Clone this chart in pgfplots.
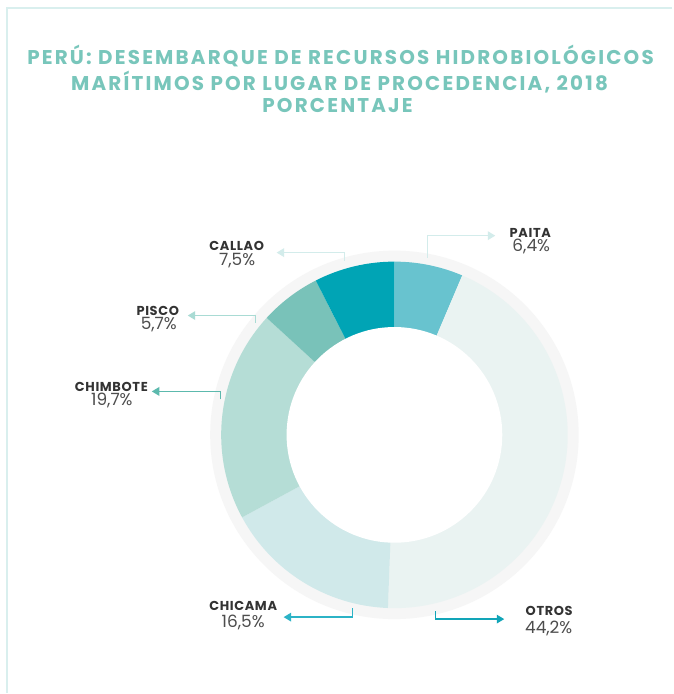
\documentclass[border=0pt]{standalone}
\usepackage{pgfplots}
\pgfplotsset{compat=1.18}
\usepackage{pgfplotstable}
\usetikzlibrary{arrows.meta}
\usepackage{fontspec}
\setmainfont{Poppins}
\definecolor{titlecol}{HTML}{78C6BB}
\definecolor{framecol}{HTML}{D9EFEE}
\definecolor{cPAITA}{HTML}{68C3CF}
\definecolor{cOTROS}{HTML}{EAF3F2}
\definecolor{cCHICAMA}{HTML}{D0E9EA}
\definecolor{cCHIMBOTE}{HTML}{B5DDD6}
\definecolor{cPISCO}{HTML}{79C2B9}
\definecolor{cCALLAO}{HTML}{00A4B5}
\definecolor{ringgray}{HTML}{F6F6F6}
\definecolor{aPale}{HTML}{D3ECEB}
\definecolor{aPISCO}{HTML}{A9DBD4}
\definecolor{aCHIMBOTE}{HTML}{5CB9AD}
\definecolor{aCHICAMA}{HTML}{2CB3C6}
\definecolor{aOTROS}{HTML}{12A5B8}
\definecolor{namecol}{HTML}{333333}
\definecolor{valcol}{HTML}{4D4D4D}

\pgfplotstableread{
name value
PAITA 6.4
OTROS 44.2
CHICAMA 16.5
CHIMBOTE 19.7
PISCO 5.7
CALLAO 7.5
}\piedata
\pgfplotstablegetelem{0}{value}\of\piedata\pgfmathsetmacro\vA{\pgfplotsretval}%
\pgfplotstablegetelem{1}{value}\of\piedata\pgfmathsetmacro\vB{\pgfplotsretval}%
\pgfplotstablegetelem{2}{value}\of\piedata\pgfmathsetmacro\vC{\pgfplotsretval}%
\pgfplotstablegetelem{3}{value}\of\piedata\pgfmathsetmacro\vD{\pgfplotsretval}%
\pgfplotstablegetelem{4}{value}\of\piedata\pgfmathsetmacro\vE{\pgfplotsretval}%
\pgfplotstablegetelem{5}{value}\of\piedata\pgfmathsetmacro\vF{\pgfplotsretval}%
\pgfmathsetmacro\aA{90}%
\pgfmathsetmacro\aB{\aA-3.6*\vA}%
\pgfmathsetmacro\aC{\aB-3.6*\vB}%
\pgfmathsetmacro\aD{\aC-3.6*\vC}%
\pgfmathsetmacro\aE{\aD-3.6*\vD}%
\pgfmathsetmacro\aF{\aE-3.6*\vE}%
\pgfmathsetmacro\aG{\aF-3.6*\vF}%

\begin{document}%
\begin{tikzpicture}
\begin{axis}[
  x=1bp, y=1bp, y dir=reverse,
  xmin=0, xmax=673, ymin=0, ymax=694,
  hide axis, clip=false, scale only axis,
]
\fill[white] (axis cs:0,0) rectangle (axis cs:673,694);
% frame
\draw[framecol, line width=2bp] (axis cs:7,694) -- (axis cs:7,8) -- (axis cs:673,8);
% title
\tikzset{ttl/.style={font=\bfseries\fontsize{20}{22}\selectfont\addfontfeatures{LetterSpace=11}, text=titlecol, anchor=center, inner sep=0pt}}
\node[ttl] at (axis cs:341,56) {PERÚ: DESEMBARQUE DE RECURSOS HIDROBIOLÓGICOS};
\node[ttl] at (axis cs:340,82) {MARÍTIMOS POR LUGAR DE PROCEDENCIA, 2018};
\node[ttl] at (axis cs:338,106) {PORCENTAJE};
% donut
\fill[ringgray] (axis cs:395,435.5) circle[radius=184.5bp];
\fill[cPAITA] (axis cs:395,435.5) -- ++(\aA:173.5bp) arc[start angle=\aA, end angle=\aB, radius=173.5bp] -- cycle;
\fill[cOTROS] (axis cs:395,435.5) -- ++(\aB:173.5bp) arc[start angle=\aB, end angle=\aC, radius=173.5bp] -- cycle;
\fill[cCHICAMA] (axis cs:395,435.5) -- ++(\aC:173.5bp) arc[start angle=\aC, end angle=\aD, radius=173.5bp] -- cycle;
\fill[cCHIMBOTE] (axis cs:395,435.5) -- ++(\aD:173.5bp) arc[start angle=\aD, end angle=\aE, radius=173.5bp] -- cycle;
\fill[cPISCO] (axis cs:395,435.5) -- ++(\aE:173.5bp) arc[start angle=\aE, end angle=\aF, radius=173.5bp] -- cycle;
\fill[cCALLAO] (axis cs:395,435.5) -- ++(\aF:173.5bp) arc[start angle=\aF, end angle=\aG, radius=173.5bp] -- cycle;
\fill[white] (axis cs:395,435.5) circle[radius=108bp];
% arrows
\tikzset{arr/.style={line width=1.5bp, -{Triangle[length=7.5bp, width=8.5bp]}}}
\draw[arr, aPale] (axis cs:428,258) -- (axis cs:428,236) -- (axis cs:496,236);
\draw[arr, aPale] (axis cs:345,261) -- (axis cs:345,253) -- (axis cs:277,253);
\draw[arr, aPISCO] (axis cs:256,323) -- (axis cs:256,316) -- (axis cs:188,316);
\draw[arr, aCHIMBOTE] (axis cs:221,400) -- (axis cs:221,392) -- (axis cs:152,392);
\draw[arr, aCHICAMA] (axis cs:353,609) -- (axis cs:353,618) -- (axis cs:284,618);
\draw[arr, aOTROS] (axis cs:436,612) -- (axis cs:436,620) -- (axis cs:505,620);
% labels
\tikzset{nm/.style={font=\bfseries\fontsize{13}{15}\selectfont\addfontfeatures{LetterSpace=5}, text=namecol, anchor=center, inner sep=0pt},
         vl/.style={font=\fontsize{17}{19}\selectfont, text=valcol, anchor=center, inner sep=0pt}}
\node[nm] at (axis cs:531,233) {PAITA};
\node[vl] at (axis cs:532,247) {6,4\%};
\node[nm] at (axis cs:237,246) {CALLAO};
\node[vl] at (axis cs:237.5,261) {7,5\%};
\node[nm] at (axis cs:158,311) {PISCO};
\node[vl] at (axis cs:159,325) {5,7\%};
\node[nm] at (axis cs:111.5,387) {CHIMBOTE};
\node[vl] at (axis cs:112,401) {19,7\%};
\node[nm] at (axis cs:243.5,607) {CHICAMA};
\node[vl] at (axis cs:243.5,623) {16,5\%};
\node[nm] at (axis cs:550,612) {OTROS};
\node[vl] at (axis cs:549.5,629) {44,2\%};
\end{axis}
\end{tikzpicture}%
\end{document}
